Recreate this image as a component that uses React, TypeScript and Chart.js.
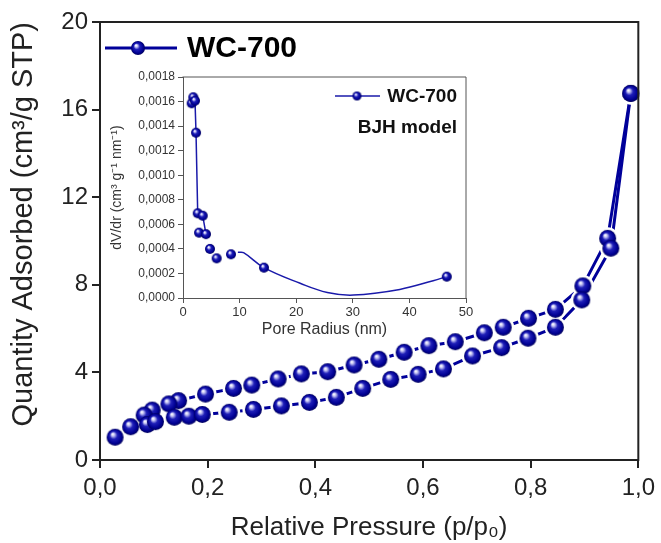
import React, { useEffect, useRef } from "react";
import { Chart, registerables } from "chart.js";

Chart.register(...registerables);

// ---- Main isotherm data (relative pressure p/p0, quantity adsorbed cm3/g STP)
const adsP = [0.028, 0.057, 0.088, 0.103, 0.138, 0.165, 0.19, 0.24, 0.285, 0.337, 0.389, 0.439, 0.488, 0.54, 0.591, 0.638, 0.692, 0.746, 0.795, 0.846, 0.895, 0.949, 0.986];
const adsQ = [1.04, 1.52, 1.62, 1.75, 1.95, 2.0, 2.08, 2.18, 2.31, 2.47, 2.63, 2.86, 3.27, 3.68, 3.91, 4.16, 4.75, 5.13, 5.56, 6.06, 7.31, 9.67, 16.74];
const desP = [0.986, 0.943, 0.897, 0.846, 0.796, 0.749, 0.714, 0.66, 0.611, 0.565, 0.518, 0.472, 0.423, 0.374, 0.331, 0.282, 0.248, 0.196, 0.146, 0.128, 0.097, 0.082];
const desQ = [16.74, 10.12, 7.95, 6.88, 6.47, 6.06, 5.81, 5.4, 5.22, 4.92, 4.6, 4.34, 4.03, 3.93, 3.7, 3.42, 3.27, 3.01, 2.71, 2.56, 2.28, 2.05];

// ---- Inset BJH data (pore radius nm, dV/dr)
const poreR = [1.53, 1.82, 2.12, 2.3, 2.6, 2.83, 3.48, 4.06, 4.77, 5.95, 8.48, 14.3, 46.6];
const poreV = [0.001586, 0.001635, 0.001607, 0.001346, 0.00069, 0.000532, 0.00067, 0.00052, 0.0004, 0.000323, 0.000356, 0.000247, 0.000174];
// visible connecting line (steep part, straight segments; null = break)
const steepR = [1.82, 2.12, 2.3, 2.6, 3.0, 3.48, 4.06];
const steepV = [0.001635, 0.001607, 0.001346, 0.00069, null, 0.00067, 0.00052];
// visible smoothed curve
const smoothR = [9.7, 10.7, 14.3, 20.7, 25.5, 30.1, 38.3, 44.2, 46.6];
const smoothV = [0.000372, 0.000369, 0.000247, 0.00012, 0.000045, 0.000024, 0.00007, 0.000141, 0.000174];

// ---- Axis settings
const mainXTicks = { min: 0, max: 1, step: 0.2 };
const mainYTicks = { min: 0, max: 20, step: 4 };
const insetXTicks = { min: 0, max: 50, step: 10 };
const insetYTicks = { min: 0, max: 0.0018, step: 0.0002 };

const seriesName = "WC-700";
const modelName = "BJH model";

const FONT = "'Liberation Sans', Arial, Helvetica, sans-serif";
const BLUE = "#00009a";
const AXIS = "#222222";

function makeSphere(r: number): HTMLCanvasElement {
  const size = Math.ceil(2 * r + 2);
  const c = document.createElement("canvas");
  c.width = size;
  c.height = size;
  const ctx = c.getContext("2d")!;
  const cx = size / 2;
  const cy = size / 2;
  const g = ctx.createRadialGradient(cx - r * 0.3, cy - r * 0.38, r * 0.04, cx, cy, r);
  g.addColorStop(0, "#ffffff");
  g.addColorStop(0.16, "#c4c4f4");
  g.addColorStop(0.42, "#1f1fb8");
  g.addColorStop(0.8, "#000092");
  g.addColorStop(1, "#00005a");
  ctx.fillStyle = g;
  ctx.beginPath();
  ctx.arc(cx, cy, r, 0, Math.PI * 2);
  ctx.fill();
  return c;
}

const pts = (xs: number[], ys: (number | null)[]) => xs.map((x, i) => ({ x, y: ys[i] }));

function boxPlugin(width: number, color: string) {
  return {
    id: "boxTopRight",
    afterDraw(chart: any) {
      const { ctx, chartArea } = chart;
      ctx.save();
      ctx.strokeStyle = color;
      ctx.lineWidth = width;
      ctx.beginPath();
      ctx.moveTo(chartArea.left - width / 2, chartArea.top);
      ctx.lineTo(chartArea.right, chartArea.top);
      ctx.lineTo(chartArea.right, chartArea.bottom + width / 2);
      ctx.stroke();
      ctx.restore();
    },
  };
}

function MainChart() {
  const ref = useRef<HTMLCanvasElement>(null);
  useEffect(() => {
    const ball = makeSphere(8.5);
    const legendBall = makeSphere(7);
    const legendPlugin = {
      id: "mainLegend",
      afterDraw(chart: any) {
        const { ctx, chartArea } = chart;
        const x0 = chartArea.left + 5;
        const y0 = chartArea.top + 26;
        ctx.save();
        ctx.strokeStyle = BLUE;
        ctx.lineWidth = 3;
        ctx.beginPath();
        ctx.moveTo(x0, y0);
        ctx.lineTo(x0 + 72, y0);
        ctx.stroke();
        ctx.drawImage(legendBall, x0 + 33 - legendBall.width / 2, y0 - legendBall.height / 2);
        ctx.fillStyle = "#000";
        ctx.font = `bold 30px ${FONT}`;
        ctx.textBaseline = "middle";
        ctx.textAlign = "left";
        ctx.fillText(seriesName, x0 + 82, y0 + 1);
        ctx.restore();
      },
    };
    const lineDs = (data: any[]) => ({
      data,
      showLine: true,
      borderColor: BLUE,
      borderWidth: 3,
      pointRadius: 0,
      tension: 0,
      order: 3,
      clip: false,
    });
    const gapDs = (data: any[]) => ({
      data,
      showLine: false,
      pointStyle: "circle",
      pointRadius: 11,
      pointBackgroundColor: "#ffffff",
      pointBorderWidth: 0,
      order: 2,
      clip: false,
    });
    const ballDs = (data: any[]) => ({
      data,
      showLine: false,
      pointStyle: ball,
      pointRadius: 8.5,
      order: 1,
      clip: false,
    });
    const ads = pts(adsP, adsQ);
    const des = pts(desP, desQ);
    const chart = new Chart(ref.current!, {
      type: "line",
      data: {
        datasets: [lineDs(ads), lineDs(des), gapDs(ads), gapDs(des), ballDs(ads), ballDs(des)] as any,
      },
      options: {
        responsive: false,
        animation: false,
        devicePixelRatio: 1,
        layout: { padding: { top: 22, right: 19, left: 0, bottom: 0 } },
        plugins: { legend: { display: false }, tooltip: { enabled: false } },
        scales: {
          x: {
            type: "linear",
            min: mainXTicks.min,
            max: mainXTicks.max,
            ticks: {
              stepSize: mainXTicks.step,
              autoSkip: false,
              maxRotation: 0,
              color: AXIS,
              padding: 6,
              font: { family: FONT, size: 24 },
              callback: (v: any) => Number(v).toFixed(1).replace(".", ","),
            },
            grid: { display: true, drawOnChartArea: false, drawTicks: true, tickLength: 8, color: AXIS, lineWidth: 2 },
            border: { display: true, color: AXIS, width: 2 },
            title: {
              display: true,
              text: "Relative Pressure (p/p₀)",
              color: AXIS,
              font: { family: FONT, size: 26 },
              padding: { top: 0, bottom: 0 },
            },
            afterFit: (s: any) => {
              s.height = 83;
            },
          },
          y: {
            type: "linear",
            min: mainYTicks.min,
            max: mainYTicks.max,
            ticks: {
              stepSize: mainYTicks.step,
              autoSkip: false,
              color: AXIS,
              padding: 4,
              font: { family: FONT, size: 24 },
            },
            grid: { display: true, drawOnChartArea: false, drawTicks: true, tickLength: 8, color: AXIS, lineWidth: 2 },
            border: { display: true, color: AXIS, width: 2 },
            title: {
              display: true,
              text: "Quantity Adsorbed (cm³/g STP)",
              color: AXIS,
              align: "end",
              font: { family: FONT, size: 29 },
              padding: { top: 7, bottom: 0 },
            },
            afterFit: (s: any) => {
              s.width = 100;
            },
          },
        },
      },
      plugins: [boxPlugin(2, AXIS), legendPlugin],
    });
    return () => chart.destroy();
  }, []);
  return <canvas ref={ref} width={661} height={543} style={{ position: "absolute", left: 0, top: 0 }} />;
}

function InsetChart() {
  const ref = useRef<HTMLCanvasElement>(null);
  useEffect(() => {
    const ball = makeSphere(5);
    const legendBall = makeSphere(4.5);
    const legendPlugin = {
      id: "insetLegend",
      afterDraw(chart: any) {
        const { ctx, chartArea } = chart;
        const x0 = chartArea.left + 152;
        const y0 = chartArea.top + 19;
        ctx.save();
        ctx.strokeStyle = "#1a1aaa";
        ctx.lineWidth = 1.5;
        ctx.beginPath();
        ctx.moveTo(x0, y0);
        ctx.lineTo(x0 + 45, y0);
        ctx.stroke();
        ctx.drawImage(legendBall, x0 + 22 - legendBall.width / 2, y0 - legendBall.height / 2);
        ctx.fillStyle = "#111";
        ctx.font = `bold 19px ${FONT}`;
        ctx.textBaseline = "middle";
        ctx.textAlign = "right";
        ctx.fillText(seriesName, chartArea.right - 9, y0 + 1);
        ctx.fillText(modelName, chartArea.right - 9, y0 + 32);
        ctx.restore();
      },
    };
    const chart = new Chart(ref.current!, {
      type: "line",
      data: {
        datasets: [
          {
            data: pts(steepR, steepV),
            showLine: true,
            spanGaps: false,
            borderColor: "#1a1aaa",
            borderWidth: 1.5,
            pointRadius: 0,
            tension: 0,
            order: 2,
          },
          {
            data: pts(smoothR, smoothV),
            showLine: true,
            borderColor: "#1a1aaa",
            borderWidth: 1.5,
            pointRadius: 0,
            tension: 0.4,
            cubicInterpolationMode: "default",
            order: 2,
          },
          {
            data: pts(poreR, poreV),
            showLine: false,
            pointStyle: ball,
            pointRadius: 5,
            order: 1,
            clip: false,
          },
        ] as any,
      },
      options: {
        responsive: false,
        animation: false,
        devicePixelRatio: 1,
        layout: { padding: { top: 12, right: 14, left: 0, bottom: 0 } },
        plugins: { legend: { display: false }, tooltip: { enabled: false } },
        scales: {
          x: {
            type: "linear",
            min: insetXTicks.min,
            max: insetXTicks.max,
            ticks: {
              stepSize: insetXTicks.step,
              autoSkip: false,
              maxRotation: 0,
              color: "#333",
              padding: 2,
              font: { family: FONT, size: 13 },
            },
            grid: { display: true, drawOnChartArea: false, drawTicks: true, tickLength: 5, color: "#555", lineWidth: 1 },
            border: { display: true, color: "#555", width: 1 },
            title: {
              display: true,
              text: "Pore Radius (nm)",
              color: "#333",
              font: { family: FONT, size: 16 },
              padding: { top: 0, bottom: 6 },
            },
            afterFit: (s: any) => {
              s.height = 47;
            },
          },
          y: {
            type: "linear",
            min: insetYTicks.min,
            max: insetYTicks.max,
            ticks: {
              stepSize: insetYTicks.step,
              autoSkip: false,
              color: "#333",
              padding: 3,
              font: { family: FONT, size: 12 },
              callback: (v: any) => Number(v).toFixed(4).replace(".", ","),
            },
            grid: { display: true, drawOnChartArea: false, drawTicks: true, tickLength: 5, color: "#555", lineWidth: 1 },
            border: { display: true, color: "#555", width: 1 },
            title: {
              display: true,
              text: "dV/dr (cm³ g⁻¹ nm⁻¹)",
              color: "#333",
              font: { family: FONT, size: 14 },
              padding: { top: 4, bottom: 0 },
            },
            afterFit: (s: any) => {
              s.width = 78;
            },
          },
        },
      },
      plugins: [boxPlugin(1, "#555"), legendPlugin],
    });
    return () => chart.destroy();
  }, []);
  return <canvas ref={ref} width={375} height={280} style={{ position: "absolute", left: 105, top: 65 }} />;
}

export default function App() {
  return (
    <div style={{ position: "fixed", left: 0, top: 0, width: 661, height: 543, background: "#fff", overflow: "hidden" }}>
      <MainChart />
      <InsetChart />
    </div>
  );
}
